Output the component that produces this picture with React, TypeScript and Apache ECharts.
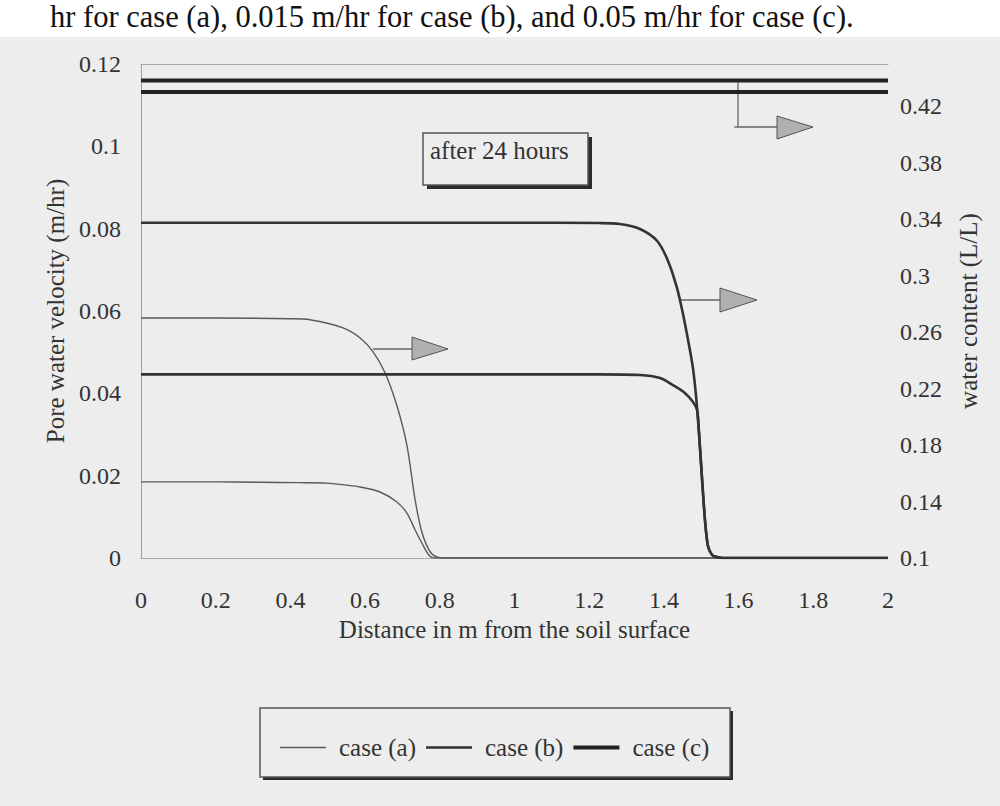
import React, { useEffect, useRef } from "react";
import * as echarts from "echarts";

// ---- data ----
const caseNames = ["case (a)", "case (b)", "case (c)"];

// case (a): pore water velocity (m/hr), left axis
const distVelA = [0, 0.2, 0.32, 0.42, 0.498, 0.55, 0.586, 0.64, 0.685, 0.712, 0.734, 0.752, 0.773, 0.792, 1.0, 1.5, 2.0];
const velA = [0.0185, 0.0185, 0.0184, 0.0183, 0.0182, 0.0177, 0.01725, 0.01603, 0.0136, 0.0109, 0.0068, 0.00364, 0.0005, 0, 0, 0, 0];
// case (a): water content (L/L), right axis
const distWatA = [0, 0.2, 0.4, 0.452, 0.541, 0.586, 0.621, 0.653, 0.685, 0.712, 0.734, 0.752, 0.773, 0.792, 0.82, 1.0, 1.5, 2.0];
const watA = [0.27, 0.27, 0.2695, 0.2688, 0.2631, 0.2561, 0.2462, 0.2314, 0.208, 0.1798, 0.141, 0.1184, 0.1049, 0.1007, 0.1, 0.1, 0.1, 0.1];

// case (b)
const distVelB = [0, 0.5, 1.0, 1.229, 1.336, 1.39, 1.424, 1.456, 1.478, 1.489, 1.494, 1.502, 1.51, 1.518, 1.529, 1.542, 1.56, 1.8, 2.0];
const velB = [0.0446, 0.0446, 0.0446, 0.0446, 0.04445, 0.0437, 0.042, 0.0401, 0.0379, 0.0359, 0.0304, 0.0194, 0.00923, 0.00291, 0.00073, 0.00024, 0, 0, 0];
const distWatB = [0, 0.5, 1.0, 1.229, 1.282, 1.336, 1.382, 1.411, 1.435, 1.451, 1.465, 1.47, 1.478, 1.486, 1.494, 1.502, 1.51, 1.518, 1.529, 1.542, 1.56, 1.8, 2.0];
const watB = [0.3375, 0.3375, 0.3375, 0.3373, 0.3366, 0.3331, 0.3246, 0.3105, 0.2914, 0.273, 0.254, 0.2469, 0.2342, 0.2151, 0.1883, 0.1565, 0.1268, 0.1085, 0.1021, 0.1007, 0.1, 0.1, 0.1];

// case (c)
const distVelC = [0, 1.0, 2.0];
const velC = [0.1132, 0.1132, 0.1132];
const distWatC = [0, 1.0, 2.0];
const watC = [0.4383, 0.4383, 0.4383];

// axis ticks
const rightTickValues = [0.1, 0.14, 0.18, 0.22, 0.26, 0.3, 0.34, 0.38, 0.42];

const zip = (xs: number[], ys: number[]) => xs.map((x, i) => [x, ys[i]]);

const FONT = "'Liberation Serif', 'DejaVu Serif', serif";
const BG = "#ededed";
const TXT = "#333";

const barIcon = (t: number) =>
  `path://M0,0h0.01v0.01h-0.01z M0,${(7 - t / 2).toFixed(2)}h46v${t}h-46z M45.99,13.99h0.01v0.01h-0.01z`;

export default function App() {
  const ref = useRef<HTMLDivElement>(null);

  useEffect(() => {
    if (!ref.current) return;
    const chart = echarts.init(ref.current, null, { renderer: "svg" });

    const frame = { show: true, lineStyle: { color: "#9a9a9a", width: 1, type: "dotted" as const } };
    const styles = [
      { width: 1.4, color: "#5a5a5a" },
      { width: 2.6, color: "#333" },
      { width: 4, color: "#222" },
    ];
    const mk = (name: string, data: number[][], yAxisIndex: number, st: any) => ({
      name,
      type: "line",
      yAxisIndex,
      data,
      showSymbol: false,
      symbol: "none",
      smooth: 0.3,
      lineStyle: { width: st.width, color: st.color },
      itemStyle: { color: st.color },
    });

    const arrowStyle = { fill: "#b0b0b0", stroke: "#555", lineWidth: 1 };
    const lineSt = { stroke: "#666", lineWidth: 1.3 };

    chart.setOption({
      animation: false,
      backgroundColor: BG,
      grid: { left: 141, right: 112, top: 64, bottom: 248, containLabel: false },
      legend: {
        data: caseNames.map((n, i) => ({ name: n, icon: barIcon(styles[i].width) })),
        left: 275,
        top: 730,
        itemWidth: 46,
        itemHeight: 14,
        itemGap: 10,
        textStyle: { fontFamily: FONT, fontSize: 25, color: TXT, padding: [0, 0, 0, 8] },
        z: 10,
      },
      xAxis: [
        {
          type: "value",
          min: 0,
          max: 2,
          interval: 0.2,
          position: "bottom",
          axisLine: { ...frame, onZero: false },
          axisTick: { show: false },
          splitLine: { show: false },
          axisLabel: { margin: 30, fontFamily: FONT, fontSize: 24, color: TXT },
          name: "Distance in m from the soil surface",
          nameLocation: "middle",
          nameGap: 57,
          nameTextStyle: { fontFamily: FONT, fontSize: 25, color: TXT },
        },
        {
          type: "value",
          min: 0,
          max: 2,
          position: "top",
          axisLine: { ...frame, onZero: false },
          axisTick: { show: false },
          axisLabel: { show: false },
          splitLine: { show: false },
        },
      ],
      yAxis: [
        {
          type: "value",
          min: 0,
          max: 0.12,
          interval: 0.02,
          position: "left",
          axisLine: frame,
          axisTick: { show: false },
          splitLine: { show: false },
          axisLabel: { margin: 20, fontFamily: FONT, fontSize: 24, color: TXT },
          name: "Pore water velocity (m/hr)",
          nameLocation: "middle",
          nameRotate: 90,
          nameGap: 68,
          nameTextStyle: { fontFamily: FONT, fontSize: 25, color: TXT },
        },
        {
          type: "value",
          min: 0.1,
          max: 0.45,
          position: "right",
          axisLine: frame,
          axisTick: { show: false },
          splitLine: { show: false },
          axisLabel: {
            margin: 12,
            fontFamily: FONT,
            fontSize: 24,
            color: TXT,
            customValues: rightTickValues,
          },
          name: "water content (L/L)",
          nameLocation: "middle",
          nameRotate: 90,
          nameGap: 68,
          nameTextStyle: { fontFamily: FONT, fontSize: 25, color: TXT },
        },
      ],
      series: [
        mk(caseNames[0], zip(distVelA, velA), 0, styles[0]),
        mk(caseNames[0], zip(distWatA, watA), 1, styles[0]),
        mk(caseNames[1], zip(distVelB, velB), 0, styles[1]),
        mk(caseNames[1], zip(distWatB, watB), 1, styles[1]),
        mk(caseNames[2], zip(distVelC, velC), 0, styles[2]),
        mk(caseNames[2], zip(distWatC, watC), 1, styles[2]),
      ],
      graphic: [
        // white band behind caption text
        { type: "rect", z: -10, shape: { x: 0, y: 0, width: 1000, height: 37 }, style: { fill: "#fff" } },
        {
          type: "text",
          x: 50,
          y: 1,
          style: {
            text: "hr for case (a), 0.015 m/hr for case (b), and 0.05 m/hr for case (c).",
            font: `30.5px ${FONT}`,
            fill: "#111",
          },
        },
        // "after 24 hours" box
        { type: "rect", shape: { x: 427, y: 137, width: 165, height: 52 }, style: { fill: "#2a2a2a" } },
        { type: "rect", shape: { x: 423, y: 133, width: 165, height: 52 }, style: { fill: BG, stroke: "#555", lineWidth: 1.5 } },
        { type: "text", x: 430, y: 138, style: { text: "after 24 hours", font: `25px ${FONT}`, fill: TXT } },
        // arrow (a)
        { type: "line", shape: { x1: 373, y1: 349, x2: 412, y2: 349 }, style: lineSt },
        { type: "polygon", shape: { points: [[412, 337], [412, 360], [448, 349]] }, style: arrowStyle },
        // arrow (b)
        { type: "line", shape: { x1: 680, y1: 300, x2: 720, y2: 300 }, style: lineSt },
        { type: "polygon", shape: { points: [[720, 288], [720, 312], [757, 300]] }, style: arrowStyle },
        // arrow (c)
        { type: "polyline", shape: { points: [[738, 79], [738, 127], [777, 127]] }, style: { ...lineSt, fill: "none" } },
        { type: "line", shape: { x1: 734, y1: 127, x2: 738, y2: 127 }, style: lineSt },
        { type: "polygon", shape: { points: [[777, 116], [777, 139], [813, 127]] }, style: arrowStyle },
        // legend box
        { type: "rect", z: 1, shape: { x: 263, y: 711, width: 470, height: 69 }, style: { fill: "#2a2a2a" } },
        { type: "rect", z: 1, shape: { x: 260, y: 708, width: 470, height: 69 }, style: { fill: BG, stroke: "#555", lineWidth: 1.5 } },
      ],
    });

    return () => chart.dispose();
  }, []);

  return (
    <div
      ref={ref}
      style={{ position: "fixed", left: 0, top: 0, width: 1000, height: 806, background: BG }}
    />
  );
}
